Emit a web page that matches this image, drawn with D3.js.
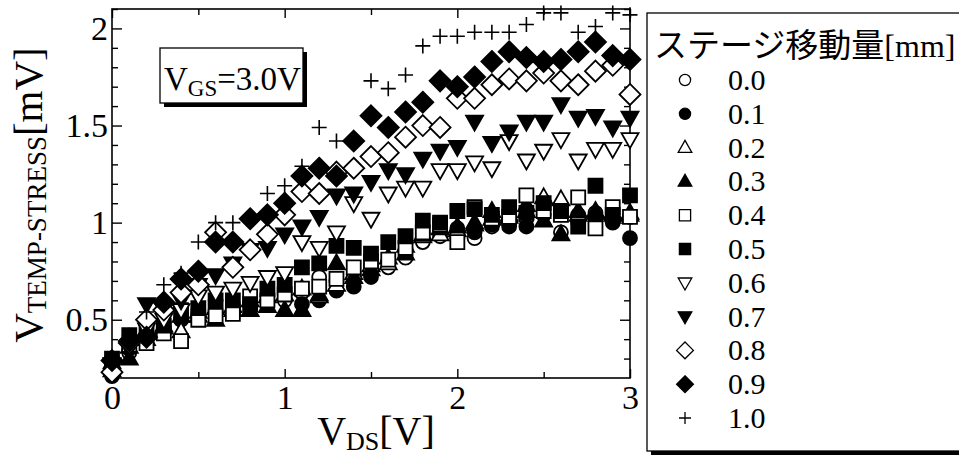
<!DOCTYPE html>
<html>
<head>
<meta charset="utf-8">
<style>
  body { margin: 0; background: #fff; }
  svg { display: block; font-family: "Liberation Serif", "Noto Sans CJK JP", serif; }
  .tick line { stroke: #000; stroke-width: 1.4; }
  .tick text { font-size: 34px; fill: #000; font-family: "Liberation Serif", serif; }
  .domain { display: none; }
</style>
</head>
<body>
<svg class="chart"></svg>
<script src="https://d3js.org/d3.v7.min.js"></script>
<script>
// V_DS values (x)
let vds = [0.0,0.1,0.2,0.3,0.4,0.5,0.6,0.7,0.8,0.9,1.0,1.1,1.2,1.3,1.4,1.5,1.6,1.7,1.8,1.9,2.0,2.1,2.2,2.3,2.4,2.5,2.6,2.7,2.8,2.9,3.0];

// V_TEMP-STRESS [mV] for each stage displacement
let v00 = [0.22,0.33,0.40,0.45,0.50,0.52,0.55,0.56,0.58,0.60,0.60,0.64,0.72,0.70,0.73,0.78,0.77,0.82,0.90,0.93,0.92,0.92,0.98,1.00,1.02,1.11,0.95,1.04,1.05,1.02,1.03];
let v01 = [0.21,0.35,0.42,0.48,0.50,0.55,0.60,0.58,0.58,0.62,0.63,0.58,0.60,0.65,0.67,0.72,0.80,0.86,0.95,0.96,0.97,0.95,0.99,0.98,0.98,1.04,1.08,1.00,1.02,1.00,0.92];
let v02 = [0.24,0.36,0.45,0.47,0.44,0.52,0.56,0.57,0.60,0.62,0.63,0.66,0.62,0.68,0.74,0.78,0.79,0.88,0.93,0.94,0.96,1.00,1.02,1.03,1.06,1.13,1.12,1.04,1.06,1.05,1.04];
let v03 = [0.28,0.30,0.40,0.46,0.52,0.54,0.50,0.55,0.55,0.57,0.55,0.55,0.63,0.79,0.72,0.76,0.82,0.84,0.94,0.97,0.98,0.99,1.06,1.04,1.09,1.01,0.94,1.06,1.05,1.04,1.05];
let v04 = [0.25,0.37,0.38,0.43,0.39,0.50,0.52,0.53,0.62,0.60,0.63,0.66,0.67,0.71,0.77,0.80,0.81,0.87,0.95,0.99,0.90,1.08,1.02,1.03,1.14,1.06,1.04,1.13,0.97,1.08,1.03];
let v05 = [0.30,0.42,0.44,0.47,0.55,0.56,0.60,0.60,0.58,0.66,0.68,0.77,0.79,0.88,0.87,0.84,0.90,0.93,1.01,1.00,1.06,1.07,1.04,1.08,1.05,1.10,1.06,0.98,1.19,1.04,1.14];
let v06 = [0.27,0.35,0.45,0.50,0.55,0.62,0.64,0.66,0.69,0.72,0.74,0.90,0.87,0.95,1.10,1.02,1.15,1.18,1.18,1.27,1.27,1.31,1.28,1.42,1.32,1.37,1.43,1.32,1.38,1.38,1.43];
let v07 = [0.27,0.36,0.58,0.55,0.60,0.68,0.73,0.79,0.86,0.87,0.94,0.98,1.03,1.14,1.15,1.21,1.27,1.25,1.33,1.37,1.39,1.52,1.41,1.47,1.52,1.52,1.61,1.54,1.55,1.49,1.54];
let v08 = [0.23,0.38,0.50,0.55,0.64,0.68,0.95,0.77,0.86,0.94,1.04,1.16,1.15,1.26,1.28,1.34,1.36,1.44,1.50,1.49,1.64,1.64,1.71,1.74,1.73,1.77,1.73,1.71,1.78,1.81,1.66];
let v09 = [0.29,0.39,0.41,0.59,0.71,0.75,0.90,0.90,1.02,1.04,1.10,1.24,1.28,1.24,1.42,1.55,1.49,1.57,1.62,1.73,1.70,1.75,1.83,1.88,1.85,1.83,1.84,1.88,1.93,1.86,1.84];
let v10 = [0.30,0.42,0.54,0.68,0.74,0.90,1.00,1.00,1.03,1.15,1.19,1.29,1.49,1.42,1.42,1.73,1.69,1.76,1.91,1.96,1.96,1.98,1.98,1.98,2.02,2.08,2.08,1.98,2.01,2.08,2.07];

let seriesLabels = ["0.0","0.1","0.2","0.3","0.4","0.5","0.6","0.7","0.8","0.9","1.0"];
let seriesValues = [v00, v01, v02, v03, v04, v05, v06, v07, v08, v09, v10];

let xMajor = [0, 1, 2, 3];
let xMinor = [0.5, 1.5, 2.5];
let yMajor = [0.5, 1, 1.5, 2];
let yMinor = [0.3, 0.4, 0.6, 0.7, 0.8, 0.9, 1.1, 1.2, 1.3, 1.4, 1.6, 1.7, 1.8, 1.9, 2.1];

// marker style per series
let markerShape = ["circle","circle","up","up","square","square","down","down","diamond","diamond","plus"];
let markerFill  = [false, true, false, true, false, true, false, true, false, true, false];

let width = 959, height = 462;
let plot = { left: 112, right: 630, top: 9, bottom: 378 };

let svg = d3.select(".chart").attr("width", width).attr("height", height);

let x = d3.scaleLinear().domain([0, 3]).range([plot.left, plot.right]);
let y = d3.scaleLinear().domain([0.2, 2.1]).range([plot.bottom, plot.top]);

function shapePath(kind, k) {
    k = k || 1;
    if (kind == "circle") {
        let r = 7 * k;
        return `M${-r},0A${r},${r} 0 1,0 ${r},0A${r},${r} 0 1,0 ${-r},0Z`;
    }
    if (kind == "square") { let h = 7 * k; return `M${-h},${-h}H${h}V${h}H${-h}Z`; }
    if (kind == "up") return `M0,${-9*k}L${8.5*k},${6*k}L${-8.5*k},${6*k}Z`;
    if (kind == "down") return `M0,${9*k}L${8.5*k},${-6*k}L${-8.5*k},${-6*k}Z`;
    if (kind == "diamond") { let h = 10.5 * k; return `M0,${-h}L${h},0L0,${h}L${-h},0Z`; }
    let p = 7.5 * k;
    return `M${-p},0H${p}M0,${-p}V${p}`;
}

// axes (ticks point inward on all four sides)
function addAxis(axis, tx, ty) {
    return svg.append("g").attr("transform", `translate(${tx},${ty})`).call(axis);
}
addAxis(d3.axisBottom(x).tickValues(xMajor).tickSize(-9).tickPadding(7).tickFormat(d3.format("")), 0, plot.bottom);
addAxis(d3.axisBottom(x).tickValues(xMinor).tickSize(-6).tickFormat(""), 0, plot.bottom);
addAxis(d3.axisTop(x).tickValues(xMajor).tickSize(-9).tickFormat(""), 0, plot.top);
addAxis(d3.axisTop(x).tickValues(xMinor).tickSize(-6).tickFormat(""), 0, plot.top);
addAxis(d3.axisLeft(y).tickValues(yMajor).tickSize(-10).tickPadding(4).tickFormat(d3.format("")), plot.left, 0);
addAxis(d3.axisLeft(y).tickValues(yMinor).tickSize(-6).tickFormat(""), plot.left, 0);
addAxis(d3.axisRight(y).tickValues(yMajor).tickSize(-10).tickFormat(""), plot.right, 0);
addAxis(d3.axisRight(y).tickValues(yMinor).tickSize(-6).tickFormat(""), plot.right, 0);

svg.append("rect")
    .attr("x", plot.left).attr("y", plot.top)
    .attr("width", plot.right - plot.left).attr("height", plot.bottom - plot.top)
    .attr("fill", "none").attr("stroke", "#000").attr("stroke-width", 1.6);

// markers
seriesValues.forEach((vals, i) => {
    svg.append("g").selectAll("path")
        .data(d3.zip(vds, vals))
        .join("path")
        .attr("d", shapePath(markerShape[i]))
        .attr("transform", d => `translate(${x(d[0])},${y(d[1])})`)
        .attr("fill", markerShape[i] == "plus" ? "none" : (markerFill[i] ? "#000" : "#fff"))
        .attr("stroke", "#000")
        .attr("stroke-width", markerShape[i] == "plus" ? 1.6 : 1.8);
});

// axis titles
let xt = svg.append("text").attr("x", 376).attr("y", 444)
    .attr("text-anchor", "middle").attr("font-size", 40);
xt.append("tspan").text("V");
xt.append("tspan").attr("font-size", 26).attr("dy", 6).text("DS");
xt.append("tspan").attr("dy", -6).text("[V]");

let yt = svg.append("text").attr("transform", "translate(42,195) rotate(-90)")
    .attr("text-anchor", "middle").attr("font-size", 41);
yt.append("tspan").text("V");
yt.append("tspan").attr("font-size", 27).attr("dy", 4).text("TEMP-STRESS");
yt.append("tspan").attr("dy", -4).text("[mV]");

// V_GS box
svg.append("rect").attr("x", 164).attr("y", 52).attr("width", 143).attr("height", 55).attr("fill", "#000");
svg.append("rect").attr("x", 160).attr("y", 48).attr("width", 143).attr("height", 55)
    .attr("fill", "#fff").attr("stroke", "#000").attr("stroke-width", 1.3);
let gs = svg.append("text").attr("x", 164).attr("y", 90).attr("font-size", 33);
gs.append("tspan").text("V");
gs.append("tspan").attr("font-size", 23).attr("dy", 6).text("GS");
gs.append("tspan").attr("dy", -6).text("=3.0V");

// legend
let legend = svg.append("g");
legend.append("rect").attr("x", 651).attr("y", 17).attr("width", 340).attr("height", 438).attr("fill", "#000");
legend.append("rect").attr("x", 647).attr("y", 13).attr("width", 340).attr("height", 438)
    .attr("fill", "#fff").attr("stroke", "#000").attr("stroke-width", 1.3);
let title = legend.append("text").attr("x", 654).attr("y", 57).attr("font-size", 33);
title.append("tspan").text("ステージ移動量");
title.append("tspan").attr("font-size", 32).text("[mm]");

let rows = legend.selectAll(".row").data(seriesLabels).join("g")
    .attr("class", "row")
    .attr("transform", (d, i) => `translate(685,${80 + i * 33.8})`);
rows.append("path")
    .attr("d", (d, i) => shapePath(markerShape[i], 0.8))
    .attr("fill", (d, i) => markerShape[i] == "plus" ? "none" : (markerFill[i] ? "#000" : "#fff"))
    .attr("stroke", "#000").attr("stroke-width", 1.3);
rows.append("text").attr("x", 43).attr("y", 10).attr("font-size", 30).text(d => d);
</script>
</body>
</html>
